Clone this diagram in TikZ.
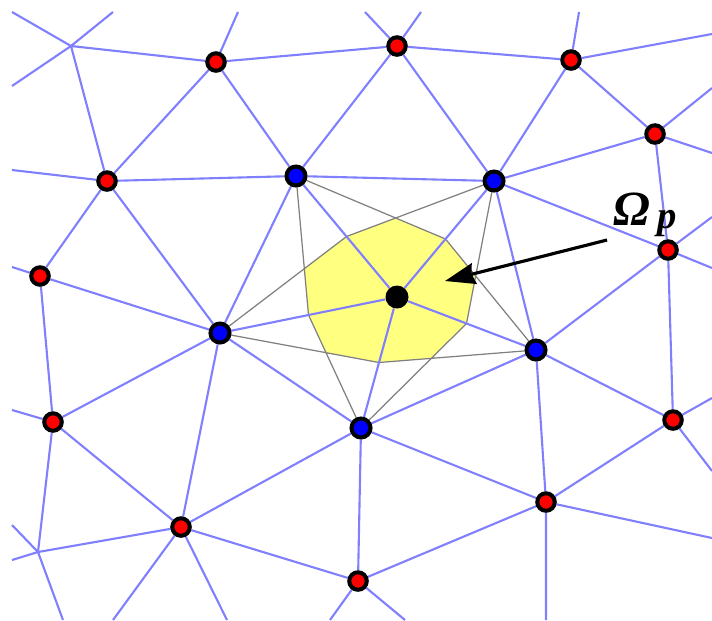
\documentclass[tikz,border=0pt]{standalone}
\usepackage{xcolor}
\usepackage{fontspec}
\usepackage{tikz}
\usetikzlibrary{calc,arrows.meta}
\newfontfamily\labelfont{Liberation Serif}
\definecolor{DCEdge}{HTML}{8080FF}
\definecolor{DCRed}{HTML}{FF0000}
\definecolor{DCBlue}{HTML}{0000FF}
\definecolor{DCCell}{HTML}{FFFF80}
\definecolor{DCMedian}{HTML}{808080}
\pgfdeclarelayer{paper}
\pgfdeclarelayer{cell}
\pgfdeclarelayer{mesh}
\pgfsetlayers{paper,cell,mesh,main}
\tikzset{
  meshedge/.style={DCEdge,line width=1.2pt},
  median/.style={DCMedian,line width=.7pt},
  rednode/.style={circle,draw=black,fill=DCRed,line width=2.3pt,minimum size=.35cm,inner sep=0pt},
  bluenode/.style={circle,draw=black,fill=DCBlue,line width=2.3pt,minimum size=.38cm,inner sep=0pt},
  centrenode/.style={circle,fill=black,minimum size=.46cm,inner sep=0pt},
  pointer/.style={-{Stealth[length=.6cm,width=.42cm,inset=.05cm]},line width=1.8pt}
}

\begin{document}
\begin{tikzpicture}[x=0.02cm,y=-0.02cm]
\path[use as bounding box] (0,0) rectangle (712,620);

\node[centrenode] (p) at (397,297) {};
\node[bluenode] (b1) at (296,176) {};
\node[bluenode] (b2) at (494,181) {};
\node[bluenode] (b3) at (536,350) {};
\node[bluenode] (b4) at (361,428) {};
\node[bluenode] (b5) at (220,333) {};
\node[rednode] (r1) at (216,62) {};
\node[rednode] (r2) at (397,46) {};
\node[rednode] (r3) at (571,60) {};
\node[rednode] (r4) at (655,134) {};
\node[rednode] (r5) at (668,250) {};
\node[rednode] (r6) at (673,420) {};
\node[rednode] (r7) at (546,502) {};
\node[rednode] (r8) at (358,581) {};
\node[rednode] (r9) at (181,527) {};
\node[rednode] (r10) at (53,422) {};
\node[rednode] (r11) at (40,276) {};
\node[rednode] (r12) at (107,181) {};
\coordinate (j1) at (71,46);
\coordinate (j2) at (38,552);

\coordinate (t1) at (12,12);
\coordinate (t2) at (113,12);
\coordinate (t3) at (238,12);
\coordinate (t4) at (365,12);
\coordinate (t5) at (421,12);
\coordinate (t6) at (579,12);
\coordinate (l1) at (12,86);
\coordinate (l2) at (12,170);
\coordinate (l3) at (12,267);
\coordinate (l4) at (12,410);
\coordinate (l5) at (12,525);
\coordinate (l6) at (12,560);
\coordinate (e1) at (712,34);
\coordinate (e2) at (712,88);
\coordinate (e3) at (712,153);
\coordinate (e4) at (712,217);
\coordinate (e5) at (712,268);
\coordinate (e6) at (712,398);
\coordinate (e7) at (712,471);
\coordinate (e8) at (712,538);
\coordinate (s1) at (63,620);
\coordinate (s2) at (113,620);
\coordinate (s3) at (227,620);
\coordinate (s4) at (330,620);
\coordinate (s5) at (405,620);
\coordinate (s6) at (546,620);

\coordinate (m1) at ($(p)!.5!(b1)$);
\coordinate (m2) at ($(p)!.5!(b2)$);
\coordinate (m3) at ($(p)!.5!(b3)$);
\coordinate (m4) at ($(p)!.5!(b4)$);
\coordinate (m5) at ($(p)!.5!(b5)$);
\coordinate (c12) at (barycentric cs:p=1,b1=1,b2=1);
\coordinate (c23) at (barycentric cs:p=1,b2=1,b3=1);
\coordinate (c34) at (barycentric cs:p=1,b3=1,b4=1);
\coordinate (c45) at (barycentric cs:p=1,b4=1,b5=1);
\coordinate (c51) at (barycentric cs:p=1,b5=1,b1=1);

\begin{pgfonlayer}{paper}
\fill[white] (0,0) rectangle (712,620);
\end{pgfonlayer}

\begin{pgfonlayer}{cell}
\fill[DCCell] (m1) -- (c12) -- (m2) -- (c23) -- (m3) -- (c34) -- (m4) -- (c45) -- (m5) -- (c51) -- cycle;
\draw[median] (b1) -- (m2) (b2) -- (m1);
\draw[median] (b2) -- (m3) (b3) -- (m2);
\draw[median] (b3) -- (m4) (b4) -- (m3);
\draw[median] (b4) -- (m5) (b5) -- (m4);
\draw[median] (b5) -- (m1) (b1) -- (m5);
\end{pgfonlayer}

\begin{pgfonlayer}{mesh}
\draw[meshedge] (j1) -- (t1) (j1) -- (t2) (j1) -- (l1) (j1) -- (r1) (j1) -- (r12);
\draw[meshedge] (r1) -- (t3) (r1) -- (r2) (r1) -- (r12) (r1) -- (b1);
\draw[meshedge] (r2) -- (t4) (r2) -- (t5) (r2) -- (r3) (r2) -- (b1) (r2) -- (b2);
\draw[meshedge] (r3) -- (t6) (r3) -- (e1) (r3) -- (b2) (r3) -- (r4);
\draw[meshedge] (r4) -- (e2) (r4) -- (e3) (r4) -- (b2) (r4) -- (r5);
\draw[meshedge] (r5) -- (e4) (r5) -- (e5) (r5) -- (b2) (r5) -- (b3) (r5) -- (r6);
\draw[meshedge] (r6) -- (e6) (r6) -- (e7) (r6) -- (r7) (r6) -- (b3);
\draw[meshedge] (r7) -- (b3) (r7) -- (b4) (r7) -- (r8) (r7) -- (e8) (r7) -- (s6);
\draw[meshedge] (r8) -- (b4) (r8) -- (r9) (r8) -- (s4) (r8) -- (s5);
\draw[meshedge] (r9) -- (b5) (r9) -- (b4) (r9) -- (r10) (r9) -- (j2) (r9) -- (s2) (r9) -- (s3);
\draw[meshedge] (r10) -- (b5) (r10) -- (r11) (r10) -- (l4) (r10) -- (j2);
\draw[meshedge] (r11) -- (r12) (r11) -- (l3) (r11) -- (b5);
\draw[meshedge] (r12) -- (l2) (r12) -- (b1) (r12) -- (b5);
\draw[meshedge] (j2) -- (l5) (j2) -- (l6) (j2) -- (s1);
\draw[meshedge] (b1) -- (b5) (b1) -- (b2) (b2) -- (b3) (b3) -- (b4) (b4) -- (b5);
\draw[meshedge] (p) -- (b1) (p) -- (b2) (p) -- (b3) (p) -- (b4) (p) -- (b5);
\end{pgfonlayer}

\node[anchor=base west,inner sep=0pt,font=\labelfont\bfseries\itshape\fontsize{28}{32}\selectfont] (omegap) at (613,225) {Ω\hspace{0.16em}\raisebox{-0.08em}{\fontsize{22}{26}\selectfont p}};
\coordinate (tail) at (607,240);
\coordinate (tip) at (445,281);
\draw[pointer] (tail) -- (tip);
\end{tikzpicture}
\end{document}
